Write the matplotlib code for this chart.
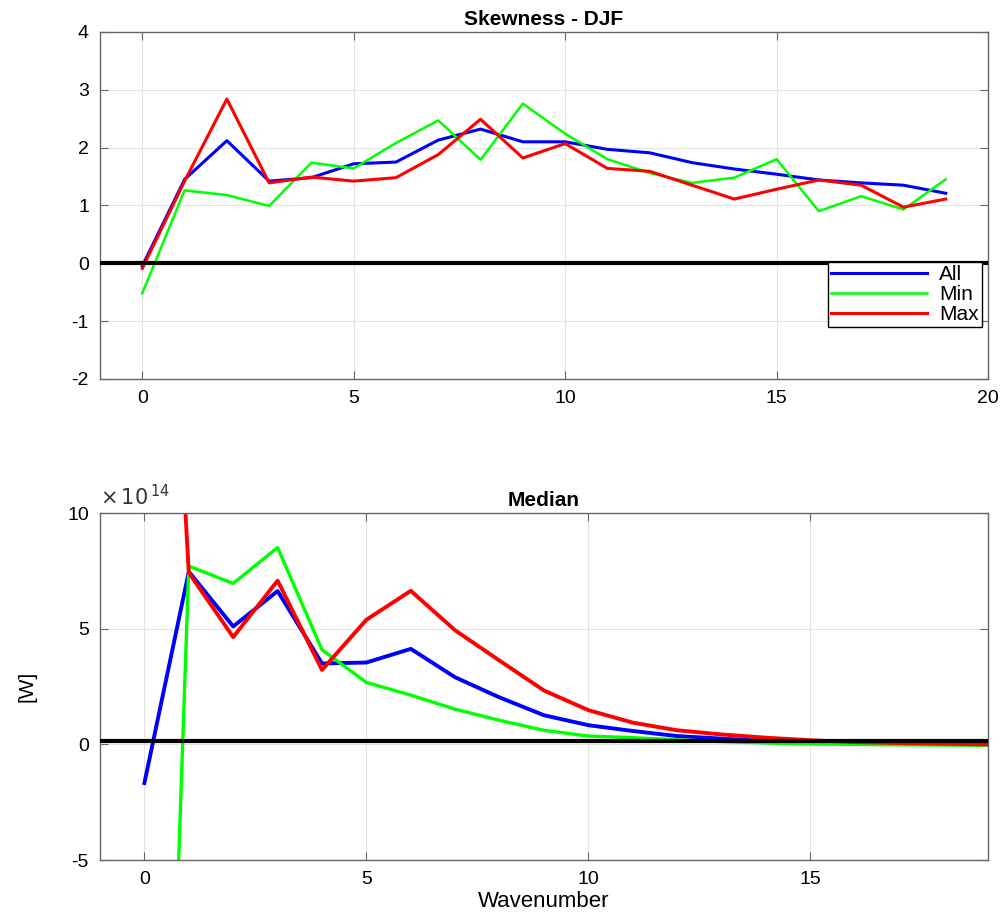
import matplotlib
matplotlib.use('Agg')
import matplotlib.pyplot as plt

plt.rcParams['font.family'] = ['Liberation Sans', 'DejaVu Sans']
plt.rcParams['axes.unicode_minus'] = False

# Данные: волновое число и значения для трёх выборок
wavenumber = list(range(20))

skew_all = [-0.05, 1.45, 2.12, 1.42, 1.48, 1.72, 1.75, 2.13, 2.32, 2.10,
            2.10, 1.97, 1.91, 1.74, 1.63, 1.54, 1.44, 1.39, 1.35, 1.21]
skew_min = [-0.52, 1.26, 1.18, 0.99, 1.74, 1.64, 2.08, 2.47, 1.79, 2.76,
            2.24, 1.80, 1.56, 1.39, 1.48, 1.80, 0.90, 1.16, 0.93, 1.45]
skew_max = [-0.09, 1.42, 2.84, 1.39, 1.49, 1.42, 1.48, 1.88, 2.49, 1.82,
            2.07, 1.64, 1.59, 1.35, 1.11, 1.28, 1.44, 1.35, 0.97, 1.11]

# медиана в единицах 1e14 W
med_all = [-1.67, 7.47, 5.10, 6.63, 3.50, 3.54, 4.13, 2.90, 2.03, 1.26,
           0.83, 0.58, 0.36, 0.25, 0.15, 0.08, 0.05, 0.03, 0.02, 0.01]
med_min = [-48.0, 7.71, 6.96, 8.51, 4.09, 2.68, 2.13, 1.52, 1.04, 0.61,
           0.36, 0.29, 0.20, 0.12, 0.06, 0.02, 0.00, -0.02, -0.03, -0.04]
med_max = [42.0, 7.42, 4.64, 7.08, 3.22, 5.39, 6.64, 4.93, 3.62, 2.33,
           1.48, 0.94, 0.61, 0.43, 0.29, 0.18, 0.10, 0.06, 0.03, 0.00]

labels = ['All', 'Min', 'Max']
colors = ['#0000ff', '#00ff00', '#ff0000']
widths = [2.2, 1.8, 2.2]


def style_axes(ax):
    ax.grid(True, color='#e3e3e3', linewidth=0.8)
    ax.set_axisbelow(True)
    for s in ax.spines.values():
        s.set_color('#666666')
        s.set_linewidth(1.0)
    ax.tick_params(direction='in', top=True, right=True, length=6,
                   color='#666666', labelsize=14, pad=8)


fig = plt.figure(figsize=(10, 9.13), dpi=100)

# Верхний график: асимметрия
ax1 = fig.add_axes([0.1, 0.585, 0.888, 0.380])
for data, lab, c, w in zip([skew_all, skew_min, skew_max], labels, colors, widths):
    ax1.plot(wavenumber, data, color=c, linewidth=w, label=lab)
ax1.axhline(0, color='black', linewidth=3, zorder=5)
ax1.set_xlim(-1, 20)
ax1.set_ylim(-2, 4)
ax1.set_xticks([0, 5, 10, 15, 20])
ax1.set_yticks(range(-2, 5))
ax1.set_title('Skewness - DJF', fontsize=15, fontweight='bold', pad=5)
style_axes(ax1)
leg = ax1.legend(loc='upper right', bbox_to_anchor=(0.993, 0.337), fontsize=15,
                 frameon=True, fancybox=False, edgecolor='black', framealpha=1,
                 handlelength=4.6, handletextpad=0.6, borderpad=0.15,
                 labelspacing=0.05, borderaxespad=0)
leg.get_frame().set_linewidth(1.0)
leg.set_zorder(10)

# Нижний график: медиана (значения в 1e14)
ax2 = fig.add_axes([0.1, 0.058, 0.888, 0.380])
for data, lab, c, w in zip([med_all, med_min, med_max], labels, colors, widths):
    ax2.plot(wavenumber, data, color=c, linewidth=w + 0.6)
ax2.axhline(0.15, color='black', linewidth=3, zorder=5)
ax2.set_xlim(-1, 19)
ax2.set_ylim(-5, 10)
ax2.set_xticks([0, 5, 10, 15])
ax2.set_yticks([-5, 0, 5, 10])
ax2.text(0.0, 1.01, r'$\times\,10^{\,14}$', transform=ax2.transAxes,
         fontsize=15, ha='left', va='bottom', color='#333333')
ax2.set_title('Median', fontsize=15, fontweight='bold', pad=5)
ax2.set_xlabel('Wavenumber', fontsize=16, labelpad=2)
ax2.set_ylabel('[W]', fontsize=15, labelpad=22)
style_axes(ax2)

fig.savefig('out.png', dpi=100)
